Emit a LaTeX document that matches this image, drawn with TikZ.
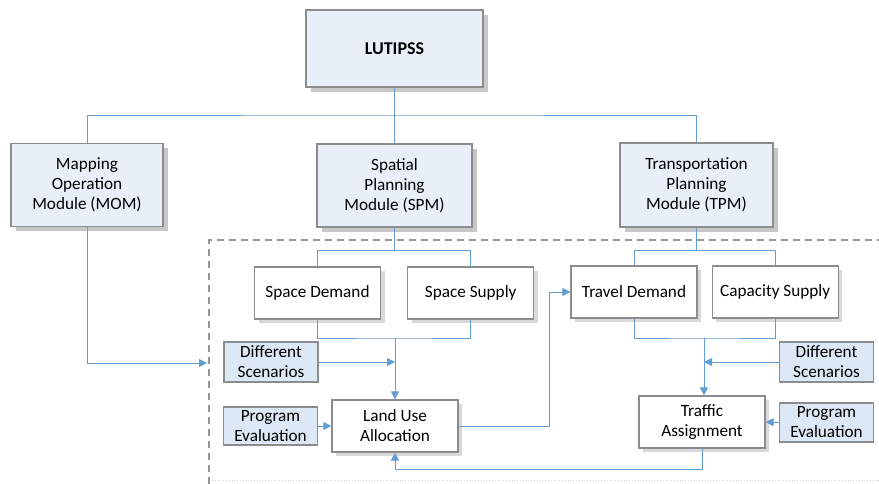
\documentclass[tikz,border=0pt]{standalone}
\usepackage{fontspec}
\setmainfont{Carlito}
\usepackage{tikz}
\usetikzlibrary{positioning,arrows.meta,shadows,calc}

\definecolor{linkblue}{RGB}{98,157,211}
\definecolor{boxfill}{RGB}{233,239,248}
\definecolor{scenfill}{RGB}{220,232,246}
\definecolor{boxdraw}{RGB}{140,140,140}

\tikzset{
  modbox/.style={draw=boxdraw, line width=1.2pt, fill=boxfill, align=center, inner sep=0pt,
    drop shadow={shadow xshift=5pt, shadow yshift=-5pt, fill=black!22, opacity=1}},
  subbox/.style={draw=boxdraw, line width=1.2pt, fill=white, align=center, inner sep=0pt,
    minimum width=126pt, minimum height=52pt,
    drop shadow={shadow xshift=4pt, shadow yshift=-4pt, fill=black!15, opacity=1}},
  scenbox/.style={draw=boxdraw, line width=1.2pt, fill=scenfill, align=center, inner sep=0pt,
    minimum width=94pt, minimum height=39pt},
  link/.style={draw=linkblue, line width=0.9pt},
  arr/.style={link, -{Triangle[length=8pt, width=8pt]}, linkblue},
  frame/.style={draw=black!42, line width=1.3pt, dash pattern=on 7pt off 5pt},
}

\begin{document}
\begin{tikzpicture}[x=1pt, y=-1pt, font=\fontsize{17.2}{20}\selectfont]
  \useasboundingbox (0,0) rectangle (879,484);

  % frame of the planning part
  \draw[frame] (209,484) -- (209,240) -- (879,240);
  \draw[black!18, line width=0.8pt, dotted] (212,480) -- (879,480);

  % top level
  \node[modbox, minimum width=177pt, minimum height=77pt] (lut) at (394.5,48.5)
    {\fontsize{18}{20}\selectfont\bfseries LUTIPSS};
  \node[modbox, minimum width=152pt, minimum height=83pt] (mom) at (87,185)
    {Mapping\\Operation\\Module (MOM)};
  \node[modbox, minimum width=155pt, minimum height=83pt] (spm) at (394.5,185.5)
    {Spatial\\Planning\\Module (SPM)};
  \node[modbox, minimum width=153pt, minimum height=84pt] (tpm) at (696.5,185)
    {Transportation\\Planning\\Module (TPM)};

  % spatial side
  \node[subbox] (sd) at (317.5,293) {Space Demand};
  \node[subbox, right=26pt of sd] (ss) {Space Supply};
  \node[scenbox, minimum height=40pt] (dsl) at (271,362) {Different\\Scenarios};
  \node[scenbox, minimum height=38pt] (pel) at (270.5,426) {Program\\Evaluation};
  \node[subbox] (lu) at (395,426) {Land Use\\Allocation};

  % transport side
  \node[subbox] (td) at (634,292) {Travel Demand};
  \node[subbox, right=14pt of td] (cs) {Capacity Supply};
  \node[scenbox, minimum height=40pt] (dsr) at (826.5,362) {Different\\Scenarios};
  \node[scenbox, minimum height=39pt] (per) at (826.5,422.5) {Program\\Evaluation};
  \node[subbox] (ta) at (702,422) {Traffic\\Assignment};

  \coordinate (hub) at (394.5,115);
  \coordinate (sjoin) at (395,338);
  \coordinate (tjoin) at (704,338);
  \coordinate (mp) at (207,363);

  % tree
  \draw[link] (lut.south) -- (hub);
  \draw[link] (mom.north) |- (hub) -| (tpm.north);
  \draw[link] (hub) -- (spm.north);

  \draw[link] (spm.south) -- ++(0,23) coordinate (sfork);
  \draw[link] (sd.north) |- (sfork) -| (ss.north);
  \draw[link] (tpm.south) -- ++(0,23) coordinate (tfork);
  \draw[link] (td.north) |- (tfork) -| (cs.north);

  \draw[link] (sd.south) |- (sjoin) -| (ss.south);
  \draw[link] (td.south) |- (tjoin) -| (cs.south);

  % arrows
  \draw[arr] (mom.south) |- (mp);
  \draw[arr] (sjoin) -- (lu.north);
  \draw[arr] (dsl.east) -- (dsl.east -| sjoin);
  \draw[arr] (pel.east) -- (lu.west);
  \draw[arr] (lu.east) -- ++(91,0) |- (td.west);
  \draw[arr] (tjoin) -- (tjoin |- ta.north);
  \draw[arr] (dsr.west) -- (dsr.west -| tjoin);
  \draw[arr] (per.west) -- (ta.east);
  \draw[arr] (ta.south) -- ++(0,21) -| (lu.south);
\end{tikzpicture}
\end{document}
